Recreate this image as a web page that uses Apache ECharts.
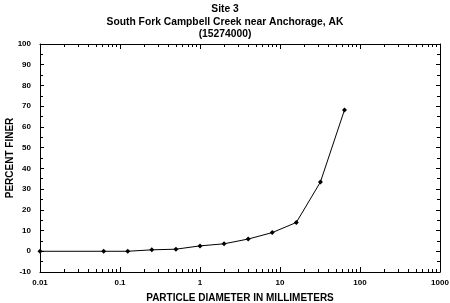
<!DOCTYPE html>
<html><head><meta charset="utf-8">
<script src="https://cdn.jsdelivr.net/npm/echarts@6/dist/echarts.min.js"></script>
<style>html,body{margin:0;padding:0;background:#fff}#c{width:450px;height:303px}</style>
</head><body><div id="c"></div>
<script>
const titleLines = ['Site 3', 'South Fork Campbell Creek near Anchorage, AK', '(15274000)'];
const diameters = [0.01, 0.0625, 0.125, 0.25, 0.5, 1, 2, 4, 8, 16, 32, 64];
const percentFiner = [0, 0, 0, 0.7, 1.0, 2.6, 3.6, 5.9, 9.0, 13.9, 33.4, 68.2];
const xTickLabels = ['0.01', '0.1', '1', '10', '100', '1000'];
const decades = [0.01, 0.1, 1, 10, 100];
const minorMultipliers = [2, 3, 4, 5, 6, 7, 8, 9];
const xName = 'PARTICLE DIAMETER IN MILLIMETERS';
const yName = 'PERCENT FINER';

const minorTicks = [];
decades.forEach(d => minorMultipliers.forEach(m => minorTicks.push([+(d * m).toPrecision(3), -10])));

const font = '"Liberation Sans", Arial, Helvetica, sans-serif';
const chart = echarts.init(document.getElementById('c'), null, {renderer: 'canvas'});
const axisLineStyle = {color: '#000', width: 1};
chart.setOption({
  animation: false,
  backgroundColor: '#fff',
  title: {
    text: titleLines.join('\n'), left: 'center', top: -2,
    textStyle: {fontFamily: font, fontWeight: 'bold', fontSize: 10.3, lineHeight: 12.5, color: '#000'}
  },
  grid: {left: 40, right: 10, top: 44, bottom: 31, containLabel: false, outerBoundsMode: 'none'},
  xAxis: [{
    type: 'log', logBase: 10, min: 0.01, max: 1000, position: 'bottom',
    name: xName, nameLocation: 'middle', nameGap: 21, nameMoveOverlap: false,
    nameTextStyle: {fontFamily: font, fontWeight: 'bold', fontSize: 10, color: '#000'},
    axisLine: {show: true, onZero: false, lineStyle: axisLineStyle},
    axisTick: {show: true, inside: true, length: 5, lineStyle: axisLineStyle},
    axisLabel: {fontFamily: font, fontWeight: 'bold', fontSize: 8, color: '#000', margin: 7, hideOverlap: false,
      formatter: v => { const i = Math.round(Math.log10(v)) + 2; return xTickLabels[i] !== undefined ? xTickLabels[i] : ''; }},
    splitLine: {show: false}
  }, {
    type: 'log', logBase: 10, min: 0.01, max: 1000, position: 'top',
    axisLine: {show: true, onZero: false, lineStyle: axisLineStyle},
    axisTick: {show: true, inside: true, length: 5, lineStyle: axisLineStyle},
    axisLabel: {show: false}, splitLine: {show: false}
  }],
  yAxis: [{
    type: 'value', min: -10, max: 100, interval: 10, position: 'left',
    name: yName, nameLocation: 'middle', nameGap: 25, nameRotate: 90, nameMoveOverlap: false,
    nameTextStyle: {fontFamily: font, fontWeight: 'bold', fontSize: 10, color: '#000'},
    axisLine: {show: true, onZero: false, lineStyle: axisLineStyle},
    axisTick: {show: true, inside: true, length: 4, lineStyle: axisLineStyle},
    minorTick: {show: true, splitNumber: 2, length: 3, lineStyle: axisLineStyle},
    axisLabel: {fontFamily: font, fontWeight: 'bold', fontSize: 8, color: '#000', margin: 9},
    splitLine: {show: false}
  }, {
    type: 'value', min: -10, max: 100, interval: 10, position: 'right',
    axisLine: {show: true, onZero: false, lineStyle: axisLineStyle},
    axisTick: {show: true, inside: true, length: 4, lineStyle: axisLineStyle},
    minorTick: {show: true, splitNumber: 2, length: 3, lineStyle: axisLineStyle},
    axisLabel: {show: false}, splitLine: {show: false}
  }],
  series: [{
    type: 'custom', xAxisIndex: 0, yAxisIndex: 0, silent: true, clip: false,
    data: minorTicks,
    renderItem: (params, api) => {
      const v = api.value(0);
      const b = api.coord([v, -10]);
      const t = api.coord([v, 100]);
      const st = {stroke: '#000', lineWidth: 1};
      const x = Math.round(b[0]) + 0.5;
      return {type: 'group', children: [
        {type: 'line', shape: {x1: x, y1: b[1], x2: x, y2: b[1] - 3}, style: st},
        {type: 'line', shape: {x1: x, y1: t[1], x2: x, y2: t[1] + 3}, style: st}
      ]};
    }
  }, {
    type: 'line', xAxisIndex: 0, yAxisIndex: 0,
    data: diameters.map((d, i) => [d, percentFiner[i]]),
    symbol: 'diamond', symbolSize: 5, showSymbol: true,
    lineStyle: {color: '#000', width: 1},
    itemStyle: {color: '#000'}
  }]
});
</script></body></html>
